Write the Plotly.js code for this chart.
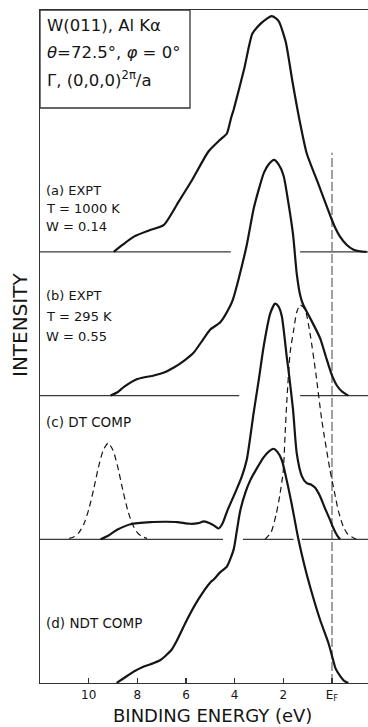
<!DOCTYPE html>
<html><head><meta charset="utf-8">
<script src="https://cdn.plot.ly/plotly-3.0.1.min.js"></script>
<style>html,body{margin:0;padding:0;background:#fff;} #chart{width:368px;height:727px;}</style>
</head><body><div id="chart"></div>
<script>
// Binding energy (eV) and intensity (relative to each panel's baseline; 1 unit = panel spacing)
const aE = [8.97, 8.6, 8.14, 7.5, 6.91, 6.3, 5.75, 5.07, 4.6, 4.32, 4.15, 4.04, 3.6, 3.27, 2.92, 2.7, 2.49, 2.3, 2.17, 1.9, 1.62, 1.35, 1.04, 0.6, 0.08, -0.1, -0.33, -0.6, -0.87, -1.15, -1.42];
const aI = [0, 0.05, 0.106, 0.15, 0.188, 0.35, 0.50, 0.70, 0.78, 0.824, 0.93, 0.99, 1.28, 1.52, 1.59, 1.62, 1.64, 1.625, 1.60, 1.46, 1.18, 0.93, 0.686, 0.49, 0.256, 0.18, 0.106, 0.05, 0.017, 0.004, 0];

const bE = [9.10, 8.8, 8.55, 8.0, 7.32, 6.9, 6.5, 6.1, 5.68, 5.3, 5.0, 4.59, 4.18, 4.07, 3.84, 3.5, 3.22, 3.0, 2.8, 2.6, 2.38, 2.2, 1.99, 1.8, 1.6, 1.45, 1.31, 1.18, 0.9, 0.49, 0.25, 0.0, -0.2, -0.4, -0.67];
const bI = [0, 0.025, 0.06, 0.115, 0.14, 0.16, 0.195, 0.24, 0.30, 0.39, 0.46, 0.51, 0.625, 0.67, 0.81, 1.05, 1.30, 1.44, 1.55, 1.61, 1.64, 1.61, 1.53, 1.35, 1.12, 0.85, 0.70, 0.63, 0.54, 0.40, 0.27, 0.14, 0.07, 0.03, 0];

const cE = [9.51, 9.2, 8.83, 8.28, 7.46, 6.8, 6.36, 5.82, 5.5, 5.27, 5.0, 4.8, 4.66, 4.5, 4.3, 4.04, 3.70, 3.50, 3.22, 3.0, 2.81, 2.54, 2.34, 2.2, 2.06, 1.86, 1.79, 1.6, 1.45, 1.24, 1.04, 0.85, 0.70, 0.49, 0.3, 0.08, -0.05, -0.2, -0.33];
const cI = [0, 0.025, 0.066, 0.105, 0.12, 0.122, 0.12, 0.108, 0.112, 0.124, 0.11, 0.09, 0.075, 0.11, 0.2, 0.30, 0.44, 0.555, 0.88, 1.12, 1.34, 1.57, 1.64, 1.62, 1.55, 1.27, 1.18, 0.9, 0.60, 0.44, 0.39, 0.38, 0.36, 0.30, 0.22, 0.135, 0.08, 0.03, 0];

const cDashLowE = [10.8, 10.6, 10.4, 10.2, 10.0, 9.8, 9.6, 9.4, 9.2, 9.0, 8.8, 8.6, 8.4, 8.2, 8.0, 7.8, 7.6];
const cDashLowI = [0.006, 0.018, 0.047, 0.105, 0.205, 0.344, 0.50, 0.62, 0.67, 0.62, 0.50, 0.344, 0.205, 0.105, 0.047, 0.018, 0.006];

const cDashHighE = [2.75, 2.5, 2.3, 2.15, 2.0, 1.93, 1.86, 1.72, 1.58, 1.45, 1.31, 1.11, 0.90, 0.66, 0.42, 0.08, -0.1, -0.26, -0.46, -0.65, -0.87, -1.0];
const cDashHighI = [0, 0.05, 0.17, 0.3, 0.48, 0.72, 0.95, 1.30, 1.45, 1.58, 1.63, 1.60, 1.43, 1.15, 0.83, 0.48, 0.33, 0.2, 0.09, 0.035, 0.01, 0];

const dE = [8.85, 8.5, 8.14, 7.8, 7.46, 7.05, 6.6, 6.36, 5.96, 5.5, 5.0, 4.86, 4.6, 4.32, 4.04, 3.9, 3.77, 3.55, 3.36, 3.1, 2.81, 2.6, 2.41, 2.25, 2.06, 1.86, 1.65, 1.45, 1.38, 1.15, 0.9, 0.49, 0.15, 0.0, -0.15, -0.33, -0.5, -0.67];
const dI = [0, 0.04, 0.08, 0.11, 0.13, 0.16, 0.23, 0.30, 0.44, 0.58, 0.70, 0.72, 0.77, 0.81, 0.93, 1.07, 1.20, 1.33, 1.41, 1.49, 1.57, 1.61, 1.63, 1.61, 1.55, 1.41, 1.24, 1.06, 1.0, 0.83, 0.67, 0.44, 0.28, 0.19, 0.10, 0.05, 0.015, 0];

// Baseline segments (energy ranges where each panel's zero line is drawn)
const aBaseSegments = [[12, 4.16], [1.31, -1.48]];
const bBaseSegments = [[12, 3.81], [1.31, -1.48]];
const cBaseSegments = [[12, 4.48], [3.66, 1.58], [1.24, -1.48]];

const efLineTop = 3.69;
const tickVals = [10, 8, 6, 4, 2, 0];
const tickText = ["10", "8", "6", "4", "2", "E<sub>F</sub>"];
const xTitle = "BINDING ENERGY (eV)";
const yTitle = "INTENSITY";

const boxLines = ["W(011), Al K\u03b1", "<i>\u03b8</i>=72.5\u00b0, <i>\u03c6</i> = 0\u00b0", "\u0393, (0,0,0)<sup>2\u03c0</sup>/a"];
const labelA = ["(a) EXPT", "T = 1000 K", "W = 0.14"];
const labelB = ["(b) EXPT", "T = 295 K", "W = 0.55"];
const labelC = ["(c) DT COMP"];
const labelD = ["(d) NDT COMP"];

// ---- build ----
const INK = '#151515';
const offA = 3, offB = 2, offC = 1, offD = 0;
function shift(arr, off) { return arr.map(v => v + off); }
function baseTrace(segs, off) {
  const x = [], y = [];
  segs.forEach(s => { x.push(s[0], s[1], null); y.push(off, off, null); });
  return {x, y, mode: 'lines', line: {color: '#3a3a3a', width: 1.3}, hoverinfo: 'skip'};
}
function solid(E, I, off) {
  return {x: E, y: shift(I, off), mode: 'lines', line: {color: INK, width: 2.2, shape: 'spline', smoothing: 0.6}, hoverinfo: 'skip'};
}
function dashed(E, I, off) {
  return {x: E, y: shift(I, off), mode: 'lines', line: {color: INK, width: 1.2, dash: '6px,4px', shape: 'spline', smoothing: 0.6}, hoverinfo: 'skip'};
}

const traces = [
  baseTrace(aBaseSegments, offA),
  baseTrace(bBaseSegments, offB),
  baseTrace(cBaseSegments, offC),
  {x: [0, 0], y: [0, efLineTop], mode: 'lines', line: {color: '#444', width: 1.0, dash: '9px,3px'}, hoverinfo: 'skip'},
  solid(aE, aI, offA),
  solid(bE, bI, offB),
  dashed(cDashLowE, cDashLowI, offC),
  dashed(cDashHighE, cDashHighI, offC),
  solid(cE, cI, offC),
  solid(dE, dI, offD)
];

// plot area in pixels: x 40..368, y 10..683
const PL = 40, PR = 368, PT = 10, PB = 683;
const px = v => (v - PL) / (PR - PL);
const py = v => (PB - v) / (PB - PT);

const ann = [];
function addText(text, x, y, size) {
  ann.push({text, xref: 'paper', yref: 'paper', x: px(x), y: py(y), xanchor: 'left', yanchor: 'middle', showarrow: false, font: {size, color: INK}});
}
const boxY = [25, 52, 79];
boxLines.forEach((t, i) => addText(t, 45, boxY[i], 16.5));
[190, 209, 227].forEach((y, i) => addText(labelA[i], 44, y, 13));
[295.5, 316, 336].forEach((y, i) => addText(labelB[i], 44, y, 13));
addText(labelC[0], 44, 422, 13.5);
addText(labelD[0], 44, 622.5, 13.5);
ann.push({text: yTitle, xref: 'paper', yref: 'paper', x: px(20), y: py(325), textangle: -90, showarrow: false, xanchor: 'center', yanchor: 'middle', font: {size: 20, color: INK}});
ann.push({text: xTitle, xref: 'paper', yref: 'paper', x: px(212), y: py(715), showarrow: false, xanchor: 'center', yanchor: 'middle', font: {size: 18, color: INK}});

const layout = {
  width: 368, height: 727,
  margin: {l: 40, r: 0, t: 10, b: 44},
  paper_bgcolor: '#fff', plot_bgcolor: '#fff',
  font: {family: 'DejaVu Sans', color: INK},
  showlegend: false,
  hovermode: false,
  xaxis: {
    range: [12, -1.48], showgrid: false, zeroline: false,
    showline: true, linecolor: '#333', linewidth: 1.4, mirror: true,
    ticks: 'inside', ticklen: 5, tickwidth: 1.3, tickcolor: '#333',
    tickvals: tickVals, ticktext: tickText, tickfont: {size: 12, color: INK}
  },
  yaxis: {
    range: [0, 4.683], showgrid: false, zeroline: false,
    showline: true, linecolor: '#333', linewidth: 1.4, mirror: false,
    ticks: '', showticklabels: false
  },
  shapes: [{type: 'rect', xref: 'paper', yref: 'paper', x0: 0, x1: px(190), y0: py(108), y1: 1, line: {color: '#333', width: 1.3}}],
  annotations: ann
};

Plotly.newPlot('chart', traces, layout, {staticPlot: true, displayModeBar: false});
</script>
</body></html>
